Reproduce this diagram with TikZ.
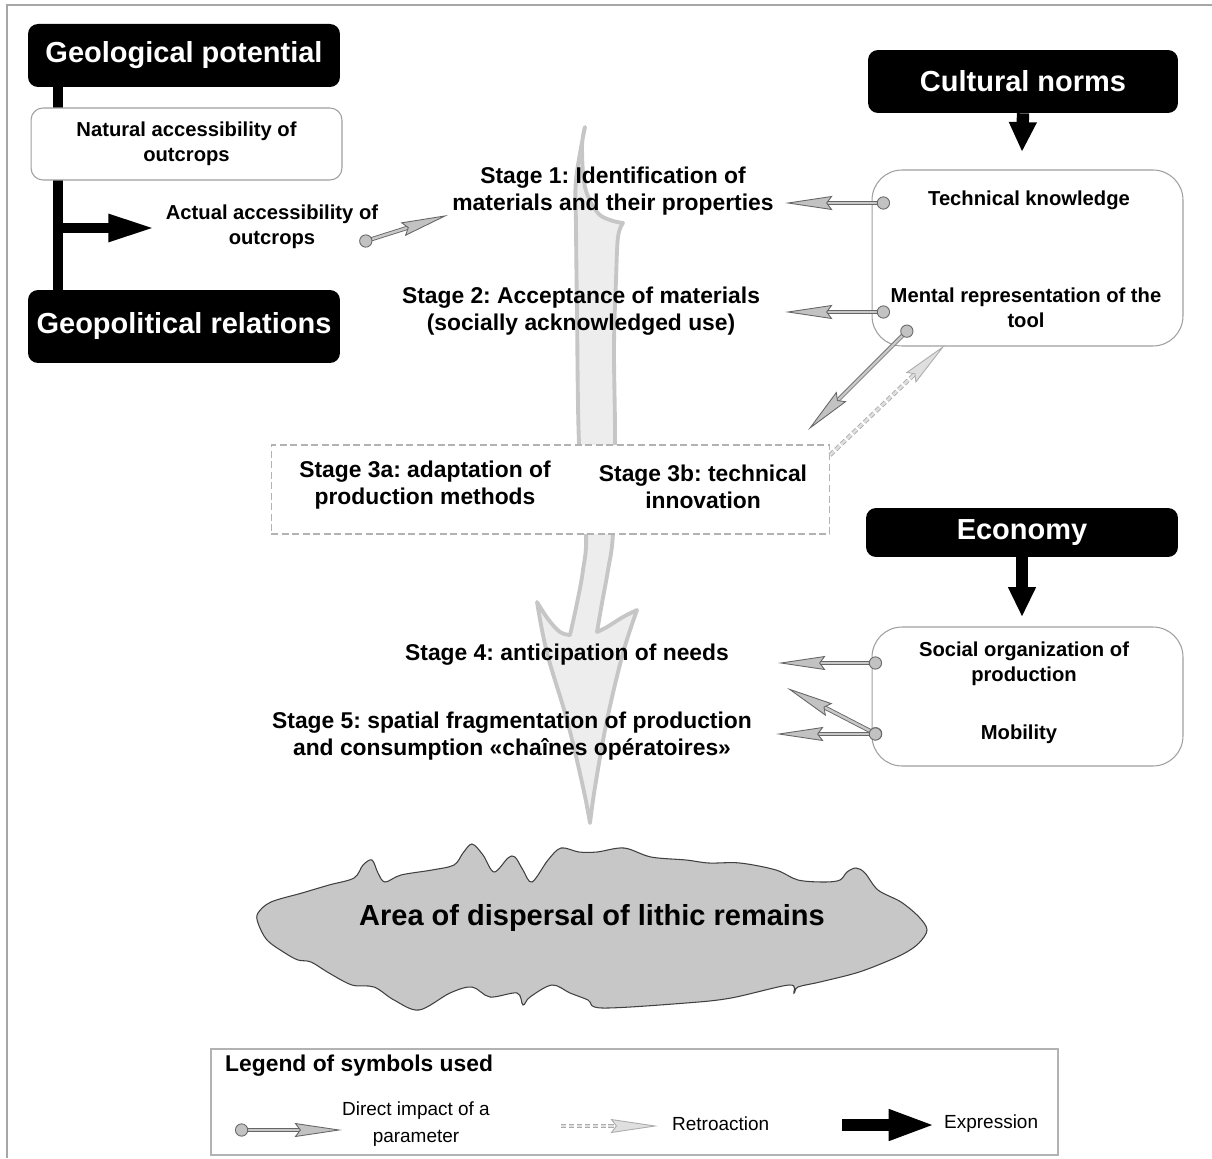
\documentclass[tikz,border=0pt]{standalone}
\usepackage{fontspec}
\setmainfont{Liberation Sans}
\usetikzlibrary{arrows.meta,positioning}
\definecolor{arrowgrey}{HTML}{EDEDED}
\definecolor{arrowedge}{HTML}{C6C6C6}
\definecolor{blobgrey}{HTML}{C7C7C7}
\definecolor{tipgrey}{HTML}{C2C2C2}
\definecolor{linegrey}{HTML}{666666}
\definecolor{shaftgrey}{HTML}{C8C8C8}
\tikzset{every node/.style={font=\bfseries},
         blackbox/.style={fill=black,text=white,rounded corners=0.2cm,
           minimum width=6.24cm,minimum height=1.26cm,
           font=\bfseries\fontsize{16.5}{19}\selectfont},
         whitebox/.style={draw=gray!75,fill=white,line width=0.6pt},
         boxtext/.style={font=\bfseries\fontsize{11.5}{14.2}\selectfont,align=center},
         stagetext/.style={font=\bfseries\fontsize{13}{15.3}\selectfont,align=center},
         legendtext/.style={font=\fontsize{10.8}{15}\selectfont,align=center},
         impact/.style={draw=linegrey,double=shaftgrey,double distance=1.4pt,line width=0.5pt,
           arrows={Circle[length=7.5pt,fill=tipgrey,color=linegrey,line width=0.5pt]-Stealth[length=27pt,width=8pt,inset=3pt,fill=tipgrey,color=linegrey,line width=0.5pt]}},
         retro/.style={draw=gray!65,double=gray!25,double distance=1.4pt,line width=0.5pt,
           dash pattern=on 3pt off 1.5pt,
           arrows={-Stealth[length=27pt,width=8pt,inset=3pt,fill=gray!25,color=gray!65,line width=0.5pt]}},
         expression/.style={line width=5.7pt,arrows={-Triangle[length=26.6pt,width=14.5pt]}},
         expressdown/.style={line width=7pt,arrows={-Triangle[length=17pt,width=14.7pt]}},
         bigarrow/.style={fill=arrowgrey,draw=arrowedge,line width=2.2pt,line join=round},
         blob/.style={fill=blobgrey,draw=black!75,line width=0.6pt}
         }
\frenchspacing
\begin{document}
\begin{tikzpicture}[x=0.02cm,y=-0.02cm]
\useasboundingbox (0,0) rectangle (1212,1158);
\draw[gray!70,line width=0.6pt] (7,1158) -- (7,5) -- (1212,5);

% main flow of the chaine operatoire
\filldraw[bigarrow]
  plot[smooth,tension=0.6] coordinates {(585,127) (576,180) (576,227) (577,313) (579,443) (586,533) (583,570) (577,603) (570,635)}
  -- plot[smooth,tension=0.6] coordinates {(570,635) (560,632) (548,619) (537,602)}
  -- plot[smooth,tension=0.6] coordinates {(537,602) (547,653) (567,720) (583,787) (590,823)}
  -- plot[smooth,tension=0.6] coordinates {(590,823) (595,787) (607,720) (623,653) (637,610)}
  -- plot[smooth,tension=0.6] coordinates {(637,610) (623,617) (607,627) (597,632)}
  -- plot[smooth,tension=0.6] coordinates {(597,632) (602,603) (608,570) (613,533) (615,443) (614,347) (616,280) (618,237) (623,223)}
  -- plot[smooth,tension=0.6] coordinates {(623,223) (610,220) (597,212) (585,187) (582,147) (585,127)}
  -- cycle;

% left: geology and geopolitics
\node[blackbox] (geo) at (184,55.5) {Geological potential};
\node[blackbox,minimum height=1.46cm] (geopol) at (184,326.5) {Geopolitical relations};
\coordinate (bartop) at (58,87);
\coordinate (barbot) at (58,290);
\fill (53,87) rectangle (63,290);
\node[whitebox,rounded corners=0.24cm,minimum width=6.22cm,minimum height=1.44cm] (natbox) at (186.5,144) {};
\node[boxtext] (natural) at (natbox) {Natural accessibility of\\outcrops};
\node[boxtext] (actual) at (272,226.5) {Actual accessibility of\\outcrops};
\coordinate (barmid) at (58,228);
\coordinate (actual-in) at (155,228);
\draw[expression] (barmid) -- (actual-in);

% right: cultural norms and economy
\node[blackbox,minimum width=6.2cm] (cult) at (1023,81.5) {Cultural norms};
\node[whitebox,rounded corners=0.6cm,minimum width=6.22cm,minimum height=3.52cm] (techbox) at (1027.5,258) {};
\node[boxtext] (techk) at (1029,200) {Technical knowledge};
\node[boxtext] (mental) at (1026,308) {Mental representation of the\\tool};
\coordinate (tech-in) at (1022,152);
\draw[expressdown] (cult.south) -- (tech-in);

\node[blackbox,minimum height=0.98cm] (eco) at (1022,532.5) {Economy};
\node[whitebox,rounded corners=0.6cm,minimum width=6.22cm,minimum height=2.78cm] (ecobox) at (1027.5,696.5) {};
\node[boxtext] (social) at (1024,663.5) {Social organization of\\production};
\node[boxtext] (mobility) at (1019,734) {Mobility};
\coordinate (eco-in) at (1022,617);
\draw[expressdown] (eco.south) -- (eco-in);

% stages
\node[whitebox,dashed,dash pattern=on 4pt off 2pt,draw=gray!60,minimum width=11.18cm,minimum height=1.78cm] (st3) at (550.5,489.5) {};
\node[stagetext] (st1) at (613,191.5) {Stage 1: Identification of\\materials and their properties};
\node[stagetext] (st2) at (581,311.5) {Stage 2: Acceptance of materials\\(socially acknowledged use)};
\node[stagetext] (st3a) at (425,485.5) {Stage 3a: adaptation of\\production methods};
\node[stagetext] (st3b) at (703,486.5) {Stage 3b: technical\\innovation};
\node[stagetext] (st4) at (567,655) {Stage 4: anticipation of needs};
\node[stagetext] (st5) at (512,736.5) {Stage 5: spatial fragmentation of production\\and consumption «chaînes opératoires»};

% impacts
\coordinate (actual-dot) at (359.5,243);
\coordinate (st1-west) at (448,215);
\coordinate (tk-dot) at (890,203);
\coordinate (st1-east) at (785,203);
\coordinate (mr-dot) at (890,312);
\coordinate (st2-east) at (785,312);
\coordinate (mr-low) at (911.5,326.5);
\coordinate (st3-in) at (808,430);
\coordinate (st3-out) at (830,455);
\coordinate (mr-back) at (945,345);
\coordinate (so-dot) at (882,663);
\coordinate (st4-east) at (778,663);
\coordinate (mob-dot) at (882,734);
\coordinate (st5-east) at (776,734);
\coordinate (mob-up) at (881.5,736.8);
\coordinate (st45) at (787,688);
\draw[impact] (actual-dot) -- (st1-west);
\draw[impact] (tk-dot) -- (st1-east);
\draw[impact] (mr-dot) -- (st2-east);
\draw[impact] (mr-low) -- (st3-in);
\draw[retro] (st3-out) -- (mr-back);
\draw[impact] (so-dot) -- (st4-east);
\draw[impact] (mob-up) -- (st45);
\draw[impact] (mob-dot) -- (st5-east);

% area of dispersal
\filldraw[blob] plot[smooth cycle,tension=0.55] coordinates {
  (258,913) (271,902) (302,893) (329,885) (354,878) (363,865) (372,860) (378,873) (385,882)
  (401,875) (432,870) (454,865) (463,853) (472,844) (483,855) (494,872) (508,858) (515,857)
  (523,870) (532,882) (548,860) (561,848) (579,852) (597,852) (624,848) (651,857) (686,860)
  (709,863) (740,863) (776,870) (798,880) (825,882) (840,880) (847,872) (856,868) (865,873)
  (878,890) (901,902) (919,917) (927,930) (919,943) (905,953) (883,963) (856,973) (820,982)
  (798,987) (794,993) (789,985) (731,998) (686,1003) (602,1008) (588,1000) (570,993) (552,985)
  (530,997) (523,1005) (517,993) (490,997) (472,987) (450,993) (419,1010) (394,1000) (374,987)
  (352,985) (329,973) (311,962) (298,960) (285,953) (267,940) (258,923)};
\node[font=\bfseries\fontsize{16.5}{19}\selectfont] (area) at (592,918) {Area of dispersal of lithic remains};

% legend
\node[draw=gray!60,line width=0.8pt,fill=white,minimum width=16.94cm,minimum height=2.12cm] (legend) at (634.5,1102) {};
\node[font=\bfseries\fontsize{13}{15}\selectfont,anchor=west] (legtitle) at (219,1066) {Legend of symbols used};
\coordinate (leg-dot) at (235,1130);
\coordinate (leg-tip) at (342,1130);
\draw[impact] (leg-dot) -- (leg-tip);
\node[legendtext] (legimpact) at (416,1124) {Direct impact of a\\parameter};
\coordinate (leg-rs) at (561,1126);
\coordinate (leg-re) at (658,1126);
\draw[retro] (leg-rs) -- (leg-re);
\node[legendtext,anchor=west] (legretro) at (666,1124) {Retroaction};
\coordinate (leg-es) at (842,1125);
\coordinate (leg-ee) at (936,1125);
\draw[line width=7pt,arrows={-Triangle[length=27pt,width=16pt]}] (leg-es) -- (leg-ee);
\node[legendtext,anchor=west] (legexpr) at (938,1124) {Expression};
\end{tikzpicture}
\end{document}
